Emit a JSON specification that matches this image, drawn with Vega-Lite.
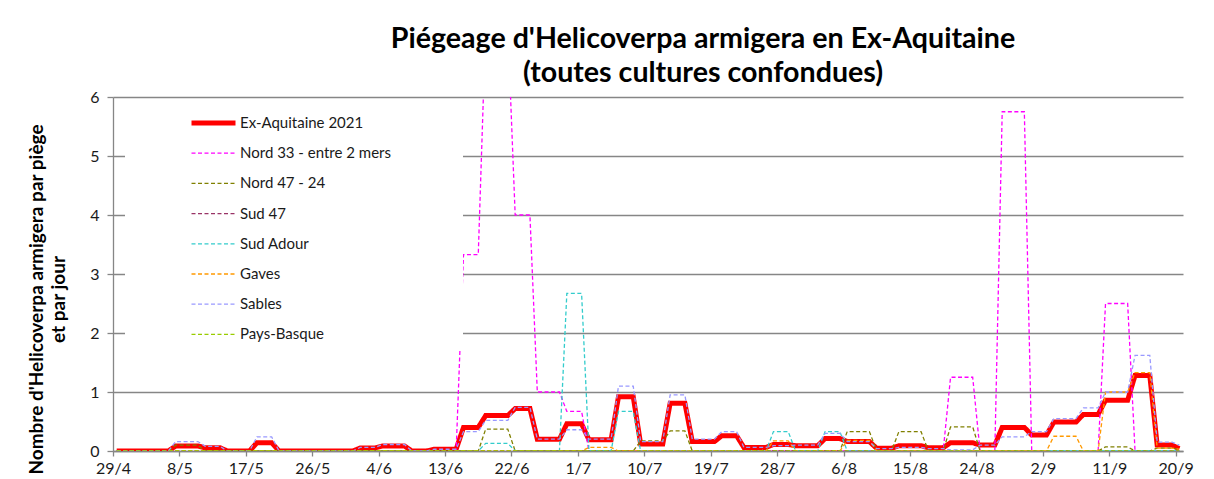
{
  "$schema": "https://vega.github.io/schema/vega-lite/v6.json",
  "width": 1070,
  "height": 354,
  "autosize": {"type": "none"},
  "padding": {"left": 113, "top": 97, "right": 31, "bottom": 28},
  "background": "white",
  "config": {"font": "Lato", "view": {"stroke": null}},
  "title": {
    "text": ["Piégeage d'Helicoverpa armigera en Ex-Aquitaine", "(toutes cultures confondues)"],
    "fontSize": 28.6, "fontWeight": "bold", "font": "Lato", "color": "#000000",
    "anchor": "middle", "dx": 55, "offset": 1, "lineHeight": 34
  },
  "data": {"values": [
    {"s":"Ex-Aquitaine 2021","d":"2021-04-29","v":0},
    {"s":"Ex-Aquitaine 2021","d":"2021-05-06","v":0},
    {"s":"Ex-Aquitaine 2021","d":"2021-05-07","v":0.085},
    {"s":"Ex-Aquitaine 2021","d":"2021-05-10","v":0.085},
    {"s":"Ex-Aquitaine 2021","d":"2021-05-11","v":0.055},
    {"s":"Ex-Aquitaine 2021","d":"2021-05-13","v":0.055},
    {"s":"Ex-Aquitaine 2021","d":"2021-05-14","v":0},
    {"s":"Ex-Aquitaine 2021","d":"2021-05-17","v":0},
    {"s":"Ex-Aquitaine 2021","d":"2021-05-18","v":0.14},
    {"s":"Ex-Aquitaine 2021","d":"2021-05-20","v":0.14},
    {"s":"Ex-Aquitaine 2021","d":"2021-05-21","v":0},
    {"s":"Ex-Aquitaine 2021","d":"2021-05-31","v":0},
    {"s":"Ex-Aquitaine 2021","d":"2021-06-01","v":0.05},
    {"s":"Ex-Aquitaine 2021","d":"2021-06-03","v":0.05},
    {"s":"Ex-Aquitaine 2021","d":"2021-06-04","v":0.085},
    {"s":"Ex-Aquitaine 2021","d":"2021-06-07","v":0.085},
    {"s":"Ex-Aquitaine 2021","d":"2021-06-08","v":0},
    {"s":"Ex-Aquitaine 2021","d":"2021-06-10","v":0},
    {"s":"Ex-Aquitaine 2021","d":"2021-06-11","v":0.03},
    {"s":"Ex-Aquitaine 2021","d":"2021-06-14","v":0.03},
    {"s":"Ex-Aquitaine 2021","d":"2021-06-15","v":0.4},
    {"s":"Ex-Aquitaine 2021","d":"2021-06-17","v":0.4},
    {"s":"Ex-Aquitaine 2021","d":"2021-06-18","v":0.6},
    {"s":"Ex-Aquitaine 2021","d":"2021-06-21","v":0.6},
    {"s":"Ex-Aquitaine 2021","d":"2021-06-22","v":0.72},
    {"s":"Ex-Aquitaine 2021","d":"2021-06-24","v":0.72},
    {"s":"Ex-Aquitaine 2021","d":"2021-06-25","v":0.2},
    {"s":"Ex-Aquitaine 2021","d":"2021-06-28","v":0.2},
    {"s":"Ex-Aquitaine 2021","d":"2021-06-29","v":0.46},
    {"s":"Ex-Aquitaine 2021","d":"2021-07-01","v":0.46},
    {"s":"Ex-Aquitaine 2021","d":"2021-07-02","v":0.19},
    {"s":"Ex-Aquitaine 2021","d":"2021-07-05","v":0.19},
    {"s":"Ex-Aquitaine 2021","d":"2021-07-06","v":0.92},
    {"s":"Ex-Aquitaine 2021","d":"2021-07-08","v":0.92},
    {"s":"Ex-Aquitaine 2021","d":"2021-07-09","v":0.12},
    {"s":"Ex-Aquitaine 2021","d":"2021-07-12","v":0.12},
    {"s":"Ex-Aquitaine 2021","d":"2021-07-13","v":0.81},
    {"s":"Ex-Aquitaine 2021","d":"2021-07-15","v":0.81},
    {"s":"Ex-Aquitaine 2021","d":"2021-07-16","v":0.16},
    {"s":"Ex-Aquitaine 2021","d":"2021-07-19","v":0.16},
    {"s":"Ex-Aquitaine 2021","d":"2021-07-20","v":0.26},
    {"s":"Ex-Aquitaine 2021","d":"2021-07-22","v":0.26},
    {"s":"Ex-Aquitaine 2021","d":"2021-07-23","v":0.06},
    {"s":"Ex-Aquitaine 2021","d":"2021-07-26","v":0.06},
    {"s":"Ex-Aquitaine 2021","d":"2021-07-27","v":0.11},
    {"s":"Ex-Aquitaine 2021","d":"2021-07-29","v":0.11},
    {"s":"Ex-Aquitaine 2021","d":"2021-07-30","v":0.09},
    {"s":"Ex-Aquitaine 2021","d":"2021-08-02","v":0.09},
    {"s":"Ex-Aquitaine 2021","d":"2021-08-03","v":0.21},
    {"s":"Ex-Aquitaine 2021","d":"2021-08-05","v":0.21},
    {"s":"Ex-Aquitaine 2021","d":"2021-08-06","v":0.16},
    {"s":"Ex-Aquitaine 2021","d":"2021-08-09","v":0.16},
    {"s":"Ex-Aquitaine 2021","d":"2021-08-10","v":0.045},
    {"s":"Ex-Aquitaine 2021","d":"2021-08-12","v":0.045},
    {"s":"Ex-Aquitaine 2021","d":"2021-08-13","v":0.09},
    {"s":"Ex-Aquitaine 2021","d":"2021-08-16","v":0.09},
    {"s":"Ex-Aquitaine 2021","d":"2021-08-17","v":0.055},
    {"s":"Ex-Aquitaine 2021","d":"2021-08-19","v":0.055},
    {"s":"Ex-Aquitaine 2021","d":"2021-08-20","v":0.14},
    {"s":"Ex-Aquitaine 2021","d":"2021-08-23","v":0.14},
    {"s":"Ex-Aquitaine 2021","d":"2021-08-24","v":0.1},
    {"s":"Ex-Aquitaine 2021","d":"2021-08-26","v":0.1},
    {"s":"Ex-Aquitaine 2021","d":"2021-08-27","v":0.4},
    {"s":"Ex-Aquitaine 2021","d":"2021-08-30","v":0.4},
    {"s":"Ex-Aquitaine 2021","d":"2021-08-31","v":0.27},
    {"s":"Ex-Aquitaine 2021","d":"2021-09-02","v":0.27},
    {"s":"Ex-Aquitaine 2021","d":"2021-09-03","v":0.49},
    {"s":"Ex-Aquitaine 2021","d":"2021-09-06","v":0.49},
    {"s":"Ex-Aquitaine 2021","d":"2021-09-07","v":0.62},
    {"s":"Ex-Aquitaine 2021","d":"2021-09-09","v":0.62},
    {"s":"Ex-Aquitaine 2021","d":"2021-09-10","v":0.86},
    {"s":"Ex-Aquitaine 2021","d":"2021-09-13","v":0.86},
    {"s":"Ex-Aquitaine 2021","d":"2021-09-14","v":1.28},
    {"s":"Ex-Aquitaine 2021","d":"2021-09-16","v":1.28},
    {"s":"Ex-Aquitaine 2021","d":"2021-09-17","v":0.1},
    {"s":"Ex-Aquitaine 2021","d":"2021-09-19","v":0.1},
    {"s":"Ex-Aquitaine 2021","d":"2021-09-20","v":0.04},

    {"s":"Nord 33 - entre 2 mers","d":"2021-04-29","v":0},
    {"s":"Nord 33 - entre 2 mers","d":"2021-06-14","v":0},
    {"s":"Nord 33 - entre 2 mers","d":"2021-06-15","v":3.33},
    {"s":"Nord 33 - entre 2 mers","d":"2021-06-17","v":3.33},
    {"s":"Nord 33 - entre 2 mers","d":"2021-06-18","v":7.2},
    {"s":"Nord 33 - entre 2 mers","d":"2021-06-21","v":7.2},
    {"s":"Nord 33 - entre 2 mers","d":"2021-06-22","v":4},
    {"s":"Nord 33 - entre 2 mers","d":"2021-06-24","v":4},
    {"s":"Nord 33 - entre 2 mers","d":"2021-06-25","v":1},
    {"s":"Nord 33 - entre 2 mers","d":"2021-06-28","v":1},
    {"s":"Nord 33 - entre 2 mers","d":"2021-06-29","v":0.67},
    {"s":"Nord 33 - entre 2 mers","d":"2021-07-01","v":0.67},
    {"s":"Nord 33 - entre 2 mers","d":"2021-07-02","v":0},
    {"s":"Nord 33 - entre 2 mers","d":"2021-08-19","v":0},
    {"s":"Nord 33 - entre 2 mers","d":"2021-08-20","v":1.25},
    {"s":"Nord 33 - entre 2 mers","d":"2021-08-23","v":1.25},
    {"s":"Nord 33 - entre 2 mers","d":"2021-08-24","v":0},
    {"s":"Nord 33 - entre 2 mers","d":"2021-08-26","v":0},
    {"s":"Nord 33 - entre 2 mers","d":"2021-08-27","v":5.75},
    {"s":"Nord 33 - entre 2 mers","d":"2021-08-30","v":5.75},
    {"s":"Nord 33 - entre 2 mers","d":"2021-08-31","v":0},
    {"s":"Nord 33 - entre 2 mers","d":"2021-09-09","v":0},
    {"s":"Nord 33 - entre 2 mers","d":"2021-09-10","v":2.5},
    {"s":"Nord 33 - entre 2 mers","d":"2021-09-13","v":2.5},
    {"s":"Nord 33 - entre 2 mers","d":"2021-09-14","v":0},
    {"s":"Nord 33 - entre 2 mers","d":"2021-09-20","v":0},

    {"s":"Nord 47 - 24","d":"2021-04-29","v":0},
    {"s":"Nord 47 - 24","d":"2021-05-06","v":0},
    {"s":"Nord 47 - 24","d":"2021-05-07","v":0.1},
    {"s":"Nord 47 - 24","d":"2021-05-10","v":0.1},
    {"s":"Nord 47 - 24","d":"2021-05-11","v":0},
    {"s":"Nord 47 - 24","d":"2021-06-17","v":0},
    {"s":"Nord 47 - 24","d":"2021-06-18","v":0.37},
    {"s":"Nord 47 - 24","d":"2021-06-21","v":0.37},
    {"s":"Nord 47 - 24","d":"2021-06-22","v":0},
    {"s":"Nord 47 - 24","d":"2021-07-08","v":0},
    {"s":"Nord 47 - 24","d":"2021-07-09","v":0.17},
    {"s":"Nord 47 - 24","d":"2021-07-12","v":0.17},
    {"s":"Nord 47 - 24","d":"2021-07-13","v":0.34},
    {"s":"Nord 47 - 24","d":"2021-07-15","v":0.34},
    {"s":"Nord 47 - 24","d":"2021-07-16","v":0},
    {"s":"Nord 47 - 24","d":"2021-08-05","v":0},
    {"s":"Nord 47 - 24","d":"2021-08-06","v":0.33},
    {"s":"Nord 47 - 24","d":"2021-08-09","v":0.33},
    {"s":"Nord 47 - 24","d":"2021-08-10","v":0},
    {"s":"Nord 47 - 24","d":"2021-08-12","v":0},
    {"s":"Nord 47 - 24","d":"2021-08-13","v":0.33},
    {"s":"Nord 47 - 24","d":"2021-08-16","v":0.33},
    {"s":"Nord 47 - 24","d":"2021-08-17","v":0},
    {"s":"Nord 47 - 24","d":"2021-08-19","v":0},
    {"s":"Nord 47 - 24","d":"2021-08-20","v":0.41},
    {"s":"Nord 47 - 24","d":"2021-08-23","v":0.41},
    {"s":"Nord 47 - 24","d":"2021-08-24","v":0},
    {"s":"Nord 47 - 24","d":"2021-09-09","v":0},
    {"s":"Nord 47 - 24","d":"2021-09-10","v":0.07},
    {"s":"Nord 47 - 24","d":"2021-09-13","v":0.07},
    {"s":"Nord 47 - 24","d":"2021-09-14","v":0},
    {"s":"Nord 47 - 24","d":"2021-09-16","v":0},
    {"s":"Nord 47 - 24","d":"2021-09-17","v":0.05},
    {"s":"Nord 47 - 24","d":"2021-09-19","v":0.05},
    {"s":"Nord 47 - 24","d":"2021-09-20","v":0.02},

    {"s":"Sud 47","d":"2021-04-29","v":0},
    {"s":"Sud 47","d":"2021-09-20","v":0},

    {"s":"Sud Adour","d":"2021-04-29","v":0},
    {"s":"Sud Adour","d":"2021-06-17","v":0},
    {"s":"Sud Adour","d":"2021-06-18","v":0.13},
    {"s":"Sud Adour","d":"2021-06-21","v":0.13},
    {"s":"Sud Adour","d":"2021-06-22","v":0},
    {"s":"Sud Adour","d":"2021-06-28","v":0},
    {"s":"Sud Adour","d":"2021-06-29","v":2.67},
    {"s":"Sud Adour","d":"2021-07-01","v":2.67},
    {"s":"Sud Adour","d":"2021-07-02","v":0},
    {"s":"Sud Adour","d":"2021-07-05","v":0},
    {"s":"Sud Adour","d":"2021-07-06","v":0.67},
    {"s":"Sud Adour","d":"2021-07-08","v":0.67},
    {"s":"Sud Adour","d":"2021-07-09","v":0},
    {"s":"Sud Adour","d":"2021-07-26","v":0},
    {"s":"Sud Adour","d":"2021-07-27","v":0.33},
    {"s":"Sud Adour","d":"2021-07-29","v":0.33},
    {"s":"Sud Adour","d":"2021-07-30","v":0},
    {"s":"Sud Adour","d":"2021-08-02","v":0},
    {"s":"Sud Adour","d":"2021-08-03","v":0.33},
    {"s":"Sud Adour","d":"2021-08-05","v":0.33},
    {"s":"Sud Adour","d":"2021-08-06","v":0},
    {"s":"Sud Adour","d":"2021-09-20","v":0},

    {"s":"Gaves","d":"2021-04-29","v":0},
    {"s":"Gaves","d":"2021-07-01","v":0},
    {"s":"Gaves","d":"2021-07-02","v":0.06},
    {"s":"Gaves","d":"2021-07-05","v":0.06},
    {"s":"Gaves","d":"2021-07-06","v":0},
    {"s":"Gaves","d":"2021-07-26","v":0},
    {"s":"Gaves","d":"2021-07-27","v":0.17},
    {"s":"Gaves","d":"2021-07-29","v":0.17},
    {"s":"Gaves","d":"2021-07-30","v":0},
    {"s":"Gaves","d":"2021-08-05","v":0},
    {"s":"Gaves","d":"2021-08-06","v":0.18},
    {"s":"Gaves","d":"2021-08-09","v":0.18},
    {"s":"Gaves","d":"2021-08-10","v":0},
    {"s":"Gaves","d":"2021-09-02","v":0},
    {"s":"Gaves","d":"2021-09-03","v":0.25},
    {"s":"Gaves","d":"2021-09-06","v":0.25},
    {"s":"Gaves","d":"2021-09-07","v":0},
    {"s":"Gaves","d":"2021-09-09","v":0},
    {"s":"Gaves","d":"2021-09-10","v":1.0},
    {"s":"Gaves","d":"2021-09-13","v":1.0},
    {"s":"Gaves","d":"2021-09-14","v":1.33},
    {"s":"Gaves","d":"2021-09-16","v":1.33},
    {"s":"Gaves","d":"2021-09-17","v":0.05},
    {"s":"Gaves","d":"2021-09-19","v":0.05},
    {"s":"Gaves","d":"2021-09-20","v":0.03},

    {"s":"Sables","d":"2021-04-29","v":0},
    {"s":"Sables","d":"2021-05-06","v":0},
    {"s":"Sables","d":"2021-05-07","v":0.16},
    {"s":"Sables","d":"2021-05-10","v":0.16},
    {"s":"Sables","d":"2021-05-11","v":0.08},
    {"s":"Sables","d":"2021-05-13","v":0.08},
    {"s":"Sables","d":"2021-05-14","v":0},
    {"s":"Sables","d":"2021-05-17","v":0},
    {"s":"Sables","d":"2021-05-18","v":0.24},
    {"s":"Sables","d":"2021-05-20","v":0.24},
    {"s":"Sables","d":"2021-05-21","v":0},
    {"s":"Sables","d":"2021-05-31","v":0},
    {"s":"Sables","d":"2021-06-01","v":0.06},
    {"s":"Sables","d":"2021-06-03","v":0.06},
    {"s":"Sables","d":"2021-06-04","v":0.11},
    {"s":"Sables","d":"2021-06-07","v":0.11},
    {"s":"Sables","d":"2021-06-08","v":0},
    {"s":"Sables","d":"2021-06-10","v":0},
    {"s":"Sables","d":"2021-06-11","v":0.03},
    {"s":"Sables","d":"2021-06-14","v":0.03},
    {"s":"Sables","d":"2021-06-15","v":0.33},
    {"s":"Sables","d":"2021-06-17","v":0.33},
    {"s":"Sables","d":"2021-06-18","v":0.52},
    {"s":"Sables","d":"2021-06-21","v":0.52},
    {"s":"Sables","d":"2021-06-22","v":0.74},
    {"s":"Sables","d":"2021-06-24","v":0.74},
    {"s":"Sables","d":"2021-06-25","v":0.2},
    {"s":"Sables","d":"2021-06-28","v":0.2},
    {"s":"Sables","d":"2021-06-29","v":0.36},
    {"s":"Sables","d":"2021-07-01","v":0.36},
    {"s":"Sables","d":"2021-07-02","v":0.2},
    {"s":"Sables","d":"2021-07-05","v":0.2},
    {"s":"Sables","d":"2021-07-06","v":1.1},
    {"s":"Sables","d":"2021-07-08","v":1.1},
    {"s":"Sables","d":"2021-07-09","v":0.16},
    {"s":"Sables","d":"2021-07-12","v":0.16},
    {"s":"Sables","d":"2021-07-13","v":0.95},
    {"s":"Sables","d":"2021-07-15","v":0.95},
    {"s":"Sables","d":"2021-07-16","v":0.2},
    {"s":"Sables","d":"2021-07-19","v":0.2},
    {"s":"Sables","d":"2021-07-20","v":0.33},
    {"s":"Sables","d":"2021-07-22","v":0.33},
    {"s":"Sables","d":"2021-07-23","v":0.06},
    {"s":"Sables","d":"2021-07-26","v":0.06},
    {"s":"Sables","d":"2021-07-27","v":0.09},
    {"s":"Sables","d":"2021-07-29","v":0.09},
    {"s":"Sables","d":"2021-07-30","v":0.1},
    {"s":"Sables","d":"2021-08-02","v":0.1},
    {"s":"Sables","d":"2021-08-03","v":0.3},
    {"s":"Sables","d":"2021-08-05","v":0.3},
    {"s":"Sables","d":"2021-08-06","v":0.16},
    {"s":"Sables","d":"2021-08-09","v":0.16},
    {"s":"Sables","d":"2021-08-10","v":0.04},
    {"s":"Sables","d":"2021-08-12","v":0.04},
    {"s":"Sables","d":"2021-08-13","v":0.06},
    {"s":"Sables","d":"2021-08-16","v":0.06},
    {"s":"Sables","d":"2021-08-17","v":0.04},
    {"s":"Sables","d":"2021-08-19","v":0.04},
    {"s":"Sables","d":"2021-08-20","v":0.02},
    {"s":"Sables","d":"2021-08-23","v":0.02},
    {"s":"Sables","d":"2021-08-24","v":0.1},
    {"s":"Sables","d":"2021-08-26","v":0.1},
    {"s":"Sables","d":"2021-08-27","v":0.24},
    {"s":"Sables","d":"2021-08-30","v":0.24},
    {"s":"Sables","d":"2021-08-31","v":0.33},
    {"s":"Sables","d":"2021-09-02","v":0.33},
    {"s":"Sables","d":"2021-09-03","v":0.55},
    {"s":"Sables","d":"2021-09-06","v":0.55},
    {"s":"Sables","d":"2021-09-07","v":0.73},
    {"s":"Sables","d":"2021-09-09","v":0.73},
    {"s":"Sables","d":"2021-09-10","v":1.0},
    {"s":"Sables","d":"2021-09-13","v":1.0},
    {"s":"Sables","d":"2021-09-14","v":1.62},
    {"s":"Sables","d":"2021-09-16","v":1.62},
    {"s":"Sables","d":"2021-09-17","v":0.15},
    {"s":"Sables","d":"2021-09-19","v":0.15},
    {"s":"Sables","d":"2021-09-20","v":0.1},

    {"s":"Pays-Basque","d":"2021-04-29","v":0},
    {"s":"Pays-Basque","d":"2021-09-20","v":0}
  ]},
  "encoding": {
    "x": {
      "field": "d", "type": "temporal",
      "scale": {"type": "utc", "nice": false, "domain": [
        {"year": 2021, "month": 4, "date": 28, "hours": 12, "utc": true},
        {"year": 2021, "month": 9, "date": 20, "hours": 12, "utc": true}
      ]},
      "axis": {
        "title": null, "grid": false, "format": "%-d/%-m",
        "values": [
          {"year": 2021, "month": 4, "date": 29, "utc": true},
          {"year": 2021, "month": 5, "date": 8, "utc": true},
          {"year": 2021, "month": 5, "date": 17, "utc": true},
          {"year": 2021, "month": 5, "date": 26, "utc": true},
          {"year": 2021, "month": 6, "date": 4, "utc": true},
          {"year": 2021, "month": 6, "date": 13, "utc": true},
          {"year": 2021, "month": 6, "date": 22, "utc": true},
          {"year": 2021, "month": 7, "date": 1, "utc": true},
          {"year": 2021, "month": 7, "date": 10, "utc": true},
          {"year": 2021, "month": 7, "date": 19, "utc": true},
          {"year": 2021, "month": 7, "date": 28, "utc": true},
          {"year": 2021, "month": 8, "date": 6, "utc": true},
          {"year": 2021, "month": 8, "date": 15, "utc": true},
          {"year": 2021, "month": 8, "date": 24, "utc": true},
          {"year": 2021, "month": 9, "date": 2, "utc": true},
          {"year": 2021, "month": 9, "date": 11, "utc": true},
          {"year": 2021, "month": 9, "date": 20, "utc": true}
        ],
        "tickOffset": -3.69, "tickSize": 5, "tickColor": "#868686", "tickWidth": 1.3,
        "domainColor": "#868686", "domainWidth": 1.3,
        "labelFontSize": 16, "labelColor": "#1a1a1a", "labelPadding": 4, "labelFlush": false, "labelOverlap": false
      }
    },
    "y": {
      "field": "v", "type": "quantitative",
      "scale": {"domain": [0, 6], "nice": false, "zero": true},
      "axis": {
        "values": [0, 1, 2, 3, 4, 5, 6],
        "grid": true, "gridColor": "#868686", "gridWidth": 1.3,
        "domainColor": "#868686", "domainWidth": 1.3,
        "tickColor": "#868686", "tickSize": 6, "tickWidth": 1.3,
        "labelFontSize": 16, "labelColor": "#1a1a1a", "labelPadding": 8,
        "title": ["Nombre d'Helicoverpa armigera par piège", "et par jour"],
        "titleFontSize": 19, "titleFontWeight": "bold", "titleColor": "#000000",
        "titleAngle": 270, "titleX": -77, "titleY": 202,
        "titleAlign": "center", "titleBaseline": "middle", "titleLineHeight": 22
      }
    },
    "color": {
      "field": "s", "type": "nominal",
      "scale": {
        "domain": ["Ex-Aquitaine 2021", "Nord 33 - entre 2 mers", "Nord 47 - 24", "Sud 47", "Sud Adour", "Gaves", "Sables", "Pays-Basque"],
        "range": ["#FF0000", "#FF00FF", "#808000", "#993366", "#33CCCC", "#FF9900", "#9999FF", "#99CC00"]
      },
      "legend": {
        "title": null, "orient": "top-left", "offset": 12, "zindex": 1,
        "fillColor": "#FFFFFF", "padding": 6, "symbolOffset": 75,
        "symbolType": "stroke", "symbolSize": 1936, "clipHeight": 16, "rowPadding": 14.2,
        "labelFontSize": 15, "labelColor": "#1a1a1a", "labelOffset": 19, "labelLimit": 400,
        "labelExpr": "datum.label + '\u2800\u2800\u2800\u2800\u2800\u2800'",
        "encode": {"symbols": {"update": {"strokeWidth": {"signal": "datum.value === 'Ex-Aquitaine 2021' ? 5 : 1.3"}}}}
      }
    },
    "strokeDash": {
      "field": "s", "type": "nominal",
      "scale": {
        "domain": ["Ex-Aquitaine 2021", "Nord 33 - entre 2 mers", "Nord 47 - 24", "Sud 47", "Sud Adour", "Gaves", "Sables", "Pays-Basque"],
        "range": [[1, 0], [4, 2.5], [4, 2.5], [4, 2.5], [4, 2.5], [4, 2.5], [4, 2.5], [4, 2.5]]
      }
    }
  },
  "layer": [
    {
      "transform": [{"filter": "datum.s === 'Ex-Aquitaine 2021'"}],
      "mark": {"type": "line", "clip": true, "strokeWidth": 5}
    },
    {
      "transform": [{"filter": "datum.s !== 'Ex-Aquitaine 2021'"}],
      "mark": {"type": "line", "clip": true, "strokeWidth": 1.3}
    }
  ]
}
